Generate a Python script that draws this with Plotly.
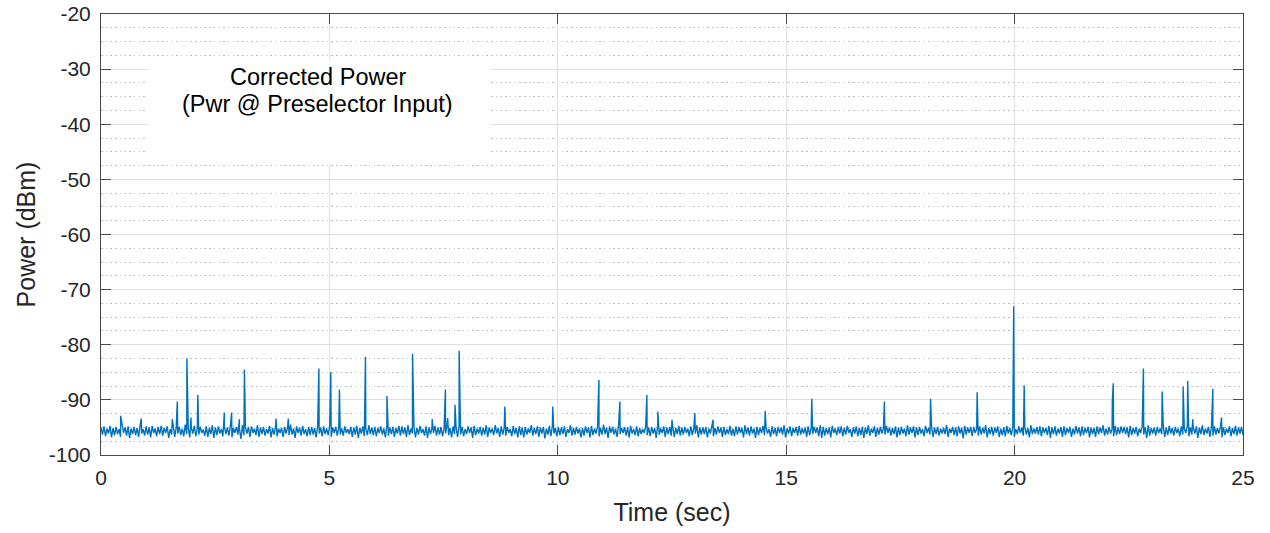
import plotly.graph_objects as go

# ---- data ----
noise_floor = [
    -95.0,-96.3,-94.8,-96.6,-95.2,-96.1,-94.7,-96.8,-95.1,-96.4,-94.9,-96.2,-95.3,-96.7,-94.6,-96.0,-95.0,-96.5,-94.8,-96.9,
    -95.2,-96.2,-94.9,-96.4,-95.1,-96.7,-94.6,-96.1,-95.3,-96.5,-94.8,-96.3,-95.0,-96.8,-94.7,-96.0,-95.2,-96.6,-94.9,-96.2,
    -94.7,-96.5,-95.1,-96.0,-94.8,-96.9,-95.3,-96.3,-94.6,-96.7,-95.0,-96.1,-94.9,-96.4,-95.2,-96.6,-94.5,-96.2,-95.1,-96.8,
    -95.0,-96.1,-94.7,-96.6,-95.2,-96.3,-94.9,-96.0,-95.4,-96.5,-94.8,-96.7,-95.1,-96.2,-94.6,-96.9,-95.0,-96.4,-94.8,-96.1,
    -95.3,-96.6,-94.8,-96.2,-95.0,-96.5,-94.7,-96.8,-95.1,-96.0,-94.9,-96.3,-95.2,-97.1,-94.6,-96.4,-95.0,-96.1,-94.9,-96.7,
    -94.8,-96.0,-95.2,-96.4,-94.6,-96.7,-95.0,-96.2,-94.9,-96.5,-95.3,-96.1,-94.7,-96.8,-95.1,-96.3,-94.8,-96.6,-95.2,-96.0,
    -95.1,-96.7,-94.9,-96.1,-95.0,-96.4,-94.5,-96.3,-95.2,-96.9,-94.8,-96.0,-95.1,-96.5,-94.7,-96.2,-95.3,-96.6,-94.9,-96.4,
    -94.9,-96.3,-95.1,-96.8,-94.7,-96.1,-95.0,-96.6,-94.8,-96.2,-95.2,-96.4,-94.6,-96.7,-95.0,-96.0,-94.9,-96.5,-95.1,-96.3,
    -95.2,-96.5,-94.8,-96.0,-95.3,-96.2,-94.9,-96.7,-95.0,-96.3,-94.7,-96.9,-95.1,-96.1,-94.8,-96.6,-95.2,-96.4,-94.6,-96.2,
    -95.0,-96.4,-94.9,-96.6,-95.1,-96.0,-94.8,-96.3,-95.2,-96.8,-94.6,-96.5,-95.0,-96.2,-94.9,-96.7,-95.1,-96.1,-94.7,-96.5,
    -94.8,-96.2,-95.0,-96.7,-94.6,-96.4,-95.2,-96.1,-94.9,-96.8,-95.1,-96.3,-94.7,-96.0,-95.3,-96.5,-94.8,-96.9,-95.0,-96.2,
    -95.1,-96.0,-94.7,-96.5,-95.0,-96.3,-94.9,-96.6,-95.2,-96.1,-94.5,-96.4,-95.1,-96.8,-94.8,-96.2,-95.0,-96.7,-94.6,-96.3,
    -94.9,-96.6,-95.3,-96.2,-94.8,-96.0,-95.0,-96.9,-94.7,-96.4,-95.2,-96.1,-94.9,-96.5,-95.1,-96.3,-94.6,-96.7,-95.0,-96.0,
    -95.2,-96.4,-94.6,-96.1,-95.1,-96.7,-94.8,-96.3,-95.0,-96.5,-94.9,-96.0,-95.3,-96.6,-94.7,-96.2,-95.1,-96.8,-94.8,-96.4,
    -95.0,-96.8,-94.9,-96.3,-95.2,-96.0,-94.6,-96.5,-95.1,-96.2,-94.8,-96.7,-95.0,-96.1,-94.9,-97.0,-95.2,-96.3,-94.7,-96.6,
    -94.7,-96.1,-95.1,-96.6,-94.9,-96.4,-95.0,-96.2,-94.8,-96.7,-95.3,-96.0,-94.6,-96.5,-95.1,-96.3,-94.9,-96.1,-95.2,-96.8,
    -95.1,-96.5,-94.8,-96.0,-95.0,-96.8,-94.7,-96.4,-95.2,-96.1,-94.9,-96.6,-95.1,-96.3,-94.5,-96.2,-95.0,-96.9,-94.8,-96.0,
    -94.9,-96.3,-95.2,-96.7,-94.6,-96.2,-95.1,-96.0,-94.9,-96.5,-95.0,-96.8,-94.7,-96.1,-95.3,-96.4,-94.8,-96.6,-95.1,-96.2,
    -95.3,-96.0,-94.8,-96.4,-95.0,-96.6,-94.9,-96.1,-95.1,-96.9,-94.6,-96.3,-95.2,-96.0,-94.8,-96.7,-95.0,-96.2,-94.9,-96.5,
    -94.8,-96.7,-95.1,-96.2,-94.7,-96.5,-95.0,-96.3,-94.9,-96.0,-95.2,-96.6,-94.8,-96.4,-95.1,-96.1,-94.6,-96.8,-95.0,-96.3,
    -95.0,-96.2,-94.9,-96.8,-95.2,-96.1,-94.7,-96.6,-95.1,-96.3,-94.8,-96.0,-95.0,-96.7,-94.9,-96.4,-95.3,-96.2,-94.7,-96.5,
    -95.2,-96.6,-94.8,-96.3,-94.9,-96.0,-95.1,-96.8,-94.6,-96.2,-95.0,-96.5,-94.8,-96.1,-95.2,-96.9,-94.9,-96.4,-95.1,-96.0,
    -94.7,-96.4,-95.0,-96.1,-95.3,-96.7,-94.8,-96.2,-95.1,-96.6,-94.9,-96.0,-95.0,-96.3,-94.6,-96.8,-95.2,-96.1,-94.8,-96.6,
    -95.1,-96.0,-94.9,-96.5,-94.7,-96.3,-95.2,-96.1,-95.0,-96.7,-94.8,-96.4,-95.1,-96.2,-94.9,-96.0,-95.0,-96.6,-94.6,-96.9,
    -94.9,-96.5,-95.1,-96.2,-95.0,-96.8,-94.7,-96.0,-95.2,-96.4,-94.9,-96.1,-94.8,-96.6,-95.1,-96.3,-94.7,-96.0,-95.3,-96.7,
    -95.0,-96.1,-94.8,-96.6,-95.1,-96.4,-94.9,-96.9,-95.0,-96.2,-94.6,-96.5,-95.2,-96.0,-94.8,-96.7,-95.1,-96.3,-94.9,-96.1,
    -95.2,-96.3,-94.7,-96.0,-95.0,-96.5,-95.1,-96.2,-94.8,-96.8,-95.0,-96.4,-94.9,-96.1,-95.2,-96.6,-94.6,-96.3,-95.0,-96.0,
    -94.8,-96.8,-95.0,-96.4,-94.9,-96.1,-95.3,-96.6,-94.7,-96.0,-95.1,-96.3,-94.8,-96.7,-95.0,-96.2,-94.9,-96.5,-95.2,-96.1,
    -95.1,-96.2,-94.6,-96.7,-95.2,-96.0,-94.9,-96.4,-95.0,-96.6,-94.8,-96.1,-95.1,-97.0,-94.7,-96.3,-95.0,-96.0,-94.9,-96.6,
    -94.9,-96.0,-95.2,-96.5,-94.8,-96.3,-95.0,-96.1,-94.6,-96.8,-95.1,-96.2,-94.9,-96.5,-95.0,-96.0,-94.8,-96.7,-95.2,-96.4,
    -95.0,-96.6,-94.7,-96.1,-95.1,-96.4,-94.9,-96.7,-95.3,-96.2,-94.8,-96.0,-95.0,-96.5,-94.9,-96.3,-95.1,-96.8,-94.6,-96.2,
    -95.2,-96.1,-94.9,-96.3,-94.8,-96.6,-95.0,-96.0,-95.1,-96.4,-94.7,-96.9,-95.0,-96.2,-94.8,-96.5,-95.2,-96.1,-94.9,-96.7,
    -94.8,-96.4,-95.1,-96.0,-94.9,-96.7,-95.2,-96.3,-94.7,-96.1,-95.0,-96.6,-94.8,-96.4,-95.1,-96.0,-94.9,-96.8,-95.0,-96.2,
    -95.1,-96.7,-94.8,-96.2,-95.0,-96.0,-94.6,-96.5,-95.2,-96.3,-94.9,-96.1,-95.3,-96.6,-94.7,-96.4,-95.0,-96.2,-94.8,-96.0,
    -94.9,-96.2,-95.0,-96.8,-94.7,-96.4,-95.1,-96.1,-94.9,-96.6,-95.2,-96.0,-94.8,-96.3,-95.0,-96.9,-94.6,-96.5,-95.1,-96.1,
    -95.0,-96.5,-94.9,-96.0,-95.2,-96.2,-94.8,-96.7,-95.0,-96.4,-94.7,-96.1,-95.1,-96.5,-94.9,-96.0,-95.2,-96.6,-94.8,-96.3,
    -95.2,-96.0,-94.7,-96.6,-95.0,-96.3,-95.1,-96.1,-94.8,-96.9,-95.0,-96.2,-94.6,-96.4,-95.2,-96.1,-94.9,-96.7,-95.0,-96.5,
    -94.8,-96.3,-95.1,-96.1,-94.9,-96.8,-95.0,-96.4,-95.2,-96.0,-94.8,-96.6,-95.1,-96.2,-94.7,-96.5,-95.0,-96.1,-94.9,-96.4,
]
t_start, t_end = 0.0, 25.0

spike_times = [0.43, 0.88, 1.56, 1.67, 1.88, 1.97, 2.12, 2.70, 2.86, 3.03, 3.14, 3.83, 4.10,
               4.77, 5.03, 5.22, 5.79, 6.26, 6.82, 7.25, 7.54, 7.59, 7.75, 7.84, 8.84, 9.89,
               10.90, 11.36, 11.95, 12.19, 12.50, 13.00, 13.40, 14.54, 15.56, 17.15, 18.16,
               19.18, 19.98, 20.21, 22.14, 22.16, 22.82, 23.23, 23.69, 23.79, 23.90, 24.34, 24.53]
spike_peaks = [-92.9, -93.4, -93.5, -90.3, -82.5, -93.2, -89.1, -92.3, -92.3, -93.5, -84.5, -93.4, -93.4,
               -84.3, -85.0, -88.1, -82.2, -89.3, -81.7, -93.5, -88.1, -93.3, -90.9, -81.1, -91.2, -91.2,
               -86.4, -90.3, -89.1, -92.1, -93.6, -92.4, -93.6, -92.0, -89.8, -90.3, -89.8,
               -88.6, -73.0, -87.4, -90.0, -87.0, -84.3, -88.5, -87.6, -86.6, -93.5, -88.0, -93.2]

x_ticks = [0, 5, 10, 15, 20, 25]
y_ticks = [-100, -90, -80, -70, -60, -50, -40, -30, -20]
label_lines = ["Corrected Power", "(Pwr @ Preselector Input)"]
label_line_y = [-31.45, -36.35]

# ---- build the trace ----
n = len(noise_floor)
noise_t = [t_start + i * (t_end - t_start) / (n - 1) for i in range(n)]
pts = list(zip(noise_t, noise_floor)) + list(zip(spike_times, spike_peaks))
pts.sort(key=lambda p: p[0])
xs = [p[0] for p in pts]
ys = [p[1] for p in pts]

FONT = "Liberation Sans, Arial, Helvetica, sans-serif"
AX = "#262626"
LINE = "#4a4a4a"

fig = go.Figure()
fig.add_trace(go.Scatter(x=xs, y=ys, mode="lines",
                         line=dict(color="#0072BD", width=1.4), hoverinfo="skip"))

axis_common = dict(
    showline=True, linecolor=LINE, linewidth=1, mirror="ticks",
    ticks="inside", ticklen=10, tickcolor=LINE, tickwidth=1,
    showgrid=True, gridcolor="#e1e1e1", gridwidth=1, zeroline=False, automargin=False,
    tickfont=dict(family=FONT, size=21, color=AX),
)

fig.update_xaxes(range=[t_start, t_end], tickvals=x_ticks, ticktext=[str(v) for v in x_ticks],
                 title=dict(text="Time (sec)", font=dict(family=FONT, size=25, color=AX), standoff=15),
                 ticklabelstandoff=4, **axis_common)
fig.update_yaxes(range=[-100, -20], tickvals=y_ticks, ticktext=[str(v) for v in y_ticks],
                 title=dict(text="Power (dBm)", font=dict(family=FONT, size=25, color=AX), standoff=6),
                 ticklabelstandoff=5,
                 minor=dict(dtick=2.5, tick0=-100, showgrid=True, gridcolor="#bdbdbd",
                            griddash="1.5px,3.2px", gridwidth=1, ticks=""),
                 **axis_common)

fig.add_shape(type="rect", xref="x", yref="y", x0=1.03, x1=8.52, y0=-47.0, y1=-28.5,
              fillcolor="white", line=dict(width=0), layer="above")
for txt, yy in zip(label_lines, label_line_y):
    fig.add_annotation(x=4.75, y=yy, xref="x", yref="y", text=txt, showarrow=False,
                       font=dict(family=FONT, size=23.5, color="#000000"), align="center")

fig.update_layout(width=1270, height=533, margin=dict(l=101, r=27, t=14, b=78),
                  paper_bgcolor="white", plot_bgcolor="white", showlegend=False)

fig.write_html("out.html", config={"displayModeBar": False},
               post_script="document.body.style.margin='0px';")
